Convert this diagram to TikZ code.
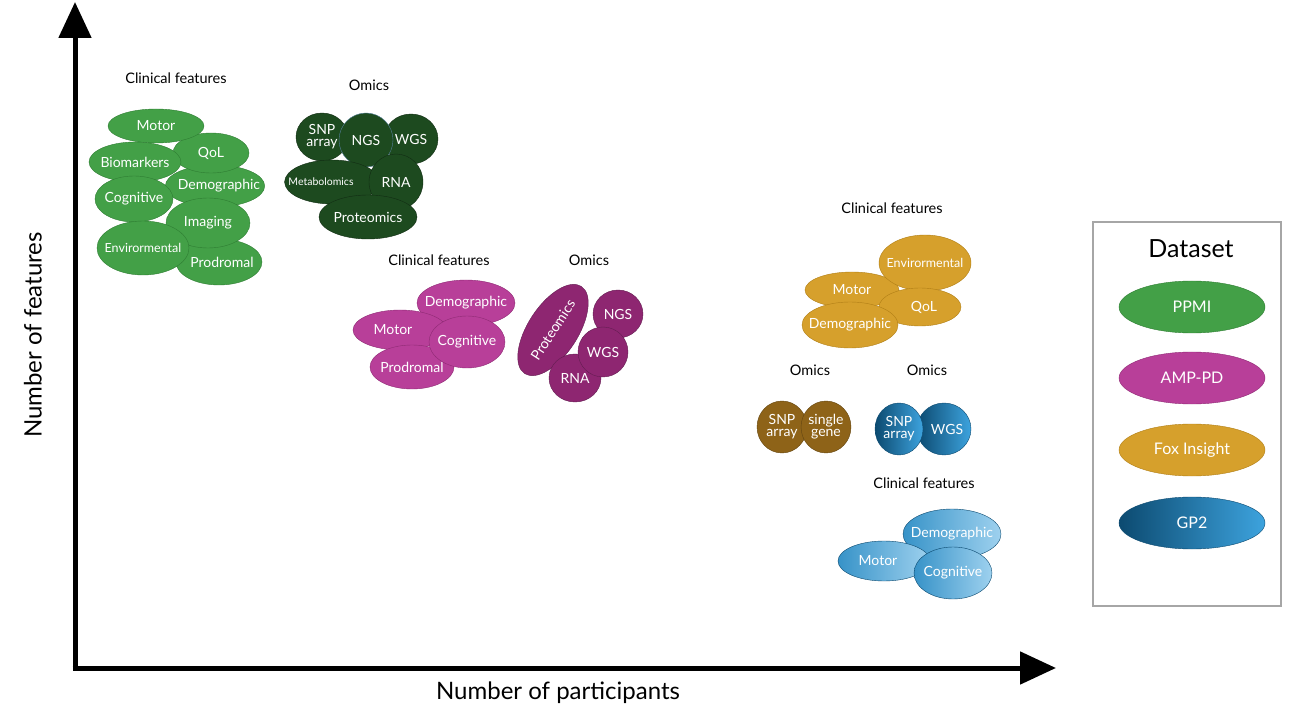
\documentclass[tikz,border=0pt]{standalone}
\usepackage{fontspec}
\setmainfont{Lato}
\usetikzlibrary{shapes.geometric, arrows.meta}
\definecolor{ppmi}{HTML}{43A047}
\definecolor{ppmiline}{HTML}{2E7D32}
\definecolor{ppmidark}{HTML}{1D4A1F}
\definecolor{amp}{HTML}{B83F99}
\definecolor{ampline}{HTML}{8E2A74}
\definecolor{ampdark}{HTML}{8E2671}
\definecolor{fox}{HTML}{D6A02C}
\definecolor{foxline}{HTML}{B07E16}
\definecolor{foxdark}{HTML}{8E6318}
\definecolor{gpdark}{HTML}{0C4A70}
\definecolor{gplight}{HTML}{3DA3DE}
\tikzset{
  blob/.style={ellipse, draw, inner xsep=-10pt, inner ysep=-4pt, text=white, align=center,
    font=\fontsize{14}{14}\selectfont},
  title/.style={font=\fontsize{14.5}{14.5}\selectfont},
  ppmi/.style={blob, fill=ppmi, draw=ppmiline},
  ppmio/.style={blob, fill=ppmidark, draw=ppmidark!60!black},
  amp/.style={blob, fill=amp, draw=ampline},
  ampo/.style={blob, fill=ampdark, draw=ampline!70!black},
  fox/.style={blob, fill=fox, draw=foxline},
  foxo/.style={blob, fill=foxdark, draw=foxdark!70!black},
  gp/.style={blob, left color=gplight!90!black, right color=gplight!50!white, draw=gpdark},
  gpo/.style={blob, left color=gpdark, right color=gplight, draw=gpdark},
  sz/.style 2 args={minimum width=#1pt, minimum height=#2pt}
}
\begin{document}
\begin{tikzpicture}[x=1pt, y=-1pt]
  \useasboundingbox (0,0) rectangle (1299,727);
  % axes
  \coordinate (origin) at (75,668);
  \coordinate (ytop) at (75,2);
  \coordinate (xend) at (1056,668);
  \draw[line width=5pt, -{Triangle[length=36pt, width=32pt]}] (75,670.5) -- (ytop);
  \draw[line width=5pt, -{Triangle[length=36pt, width=32pt]}] (72.5,668) -- (xend);
  \node[font=\fontsize{24}{24}\selectfont, rotate=90] (ylab) at (33,335) {Number of features};
  \node[font=\fontsize{24}{24}\selectfont] (xlab) at (558,693) {Number of participants};

  % PPMI
  \node[title] (ppmiclin) at (176,78) {Clinical features};
  \node[ppmi, sz={96}{42}] (pdemo) at (215,186) {\hspace*{8pt}Demographic};
  \node[ppmi, sz={76}{40}] (pqol) at (211,153) {QoL};
  \node[ppmi, sz={96}{34}] (pmotor) at (156,126) {Motor};
  \node[ppmi, sz={92}{40}] (pbio) at (135,162) {Biomarkers};
  \node[ppmi, sz={78}{46}] (pcog) at (134,199) {Cognitive};
  \node[ppmi, sz={86}{46}] (pprod) at (219,262) {\hspace*{6pt}Prodromal};
  \node[ppmi, sz={84}{50}] (pimg) at (208,223) {Imaging};
  \node[ppmi, sz={92}{54}, font=\fontsize{12.5}{12}\selectfont] (penv) at (143,248) {Envirormental};

  \node[title] (ppmiomics) at (369,85) {Omics};
  \node[ppmio, sz={52}{48}] (psnp) at (322,137) {SNP\\[-2pt]array};
  \node[ppmio, sz={54}{50}] (pwgs) at (411,139) {WGS};
  \node[ppmio, sz={54}{54}, draw=gpdark!70!white] (pngs) at (366,140) {NGS};
  \node[ppmio, sz={92}{44}, font=\fontsize{10.5}{10}\selectfont] (pmeta) at (332,182) {Metabolomics\hspace*{22pt}};
  \node[ppmio, sz={54}{56}] (prna) at (396,182) {RNA};
  \node[ppmio, sz={98}{44}] (pprot) at (368,217) {Proteomics};

  % AMP-PD
  \node[title] (ampclin) at (439,260) {Clinical features};
  \node[amp, sz={98}{46}] (ademo) at (466,303) {Demographic};
  \node[amp, sz={94}{40}] (amotor) at (400,330) {Motor\hspace*{14pt}};
  \node[amp, sz={84}{44}] (aprod) at (412,367) {Prodromal};
  \node[amp, sz={76}{52}] (acog) at (467,342) {Cognitive};

  \node[title] (ampomics) at (589,260) {Omics};
  \node[ampo, sz={104}{50}, rotate=57] (aprot) at (553,330) {Proteomics};
  \node[ampo, sz={50}{48}] (angs) at (618,314) {NGS};
  \node[ampo, sz={52}{48}] (arna) at (575,378) {RNA};
  \node[ampo, sz={50}{50}] (awgs) at (603,352) {WGS};

  % Fox Insight
  \node[title] (foxclin) at (892,208) {Clinical features};
  \node[fox, sz={94}{36}] (fmotor) at (852,290) {Motor};
  \node[fox, sz={92}{56}, font=\fontsize{12.5}{12}\selectfont] (fenv) at (925,263) {Envirormental};
  \node[fox, sz={82}{38}] (fqol) at (920,307) {\hspace*{8pt}QoL};
  \node[fox, sz={96}{46}] (fdemo) at (850,325) {Demographic};

  \node[title] (foxomics) at (810,370) {Omics};
  \node[foxo, sz={50}{52}] (fsnp) at (782,427) {SNP\\[-2pt]array};
  \node[foxo, sz={50}{52}] (fgene) at (826,427) {single\\[-2pt]gene};

  % GP2
  \node[title] (gpomics) at (927,370) {Omics};
  \node[gpo, sz={54}{52}] (gwgs) at (944,429) {\hspace*{6pt}WGS};
  \node[gpo, sz={48}{52}] (gsnp) at (899,429) {SNP\\[-2pt]array};

  \node[title] (gpclin) at (924,483) {Clinical features};
  \node[gp, sz={98}{50}] (gdemo) at (952,534) {Demographic};
  \node[gp, sz={92}{40}] (gmotor) at (884,561) {Motor\hspace*{12pt}};
  \node[gp, sz={78}{52}] (gcog) at (953,573) {Cognitive};

  % legend
  \draw[line width=1.5pt, gray!70] (1093,222) rectangle (1281,606);
  \node[font=\fontsize{25}{25}\selectfont] (legtitle) at (1191,249) {Dataset};
  \node[ppmi, sz={146}{52}, font=\fontsize{16}{16}\selectfont] (legppmi) at (1192,307) {PPMI};
  \node[amp, sz={146}{52}, font=\fontsize{16}{16}\selectfont] (legamp) at (1192,378) {AMP-PD};
  \node[fox, sz={146}{52}, font=\fontsize{16}{16}\selectfont] (legfox) at (1192,450) {Fox Insight};
  \node[gpo, sz={146}{52}, font=\fontsize{16}{16}\selectfont] (leggp) at (1192,523) {GP2};
\end{tikzpicture}
\end{document}
